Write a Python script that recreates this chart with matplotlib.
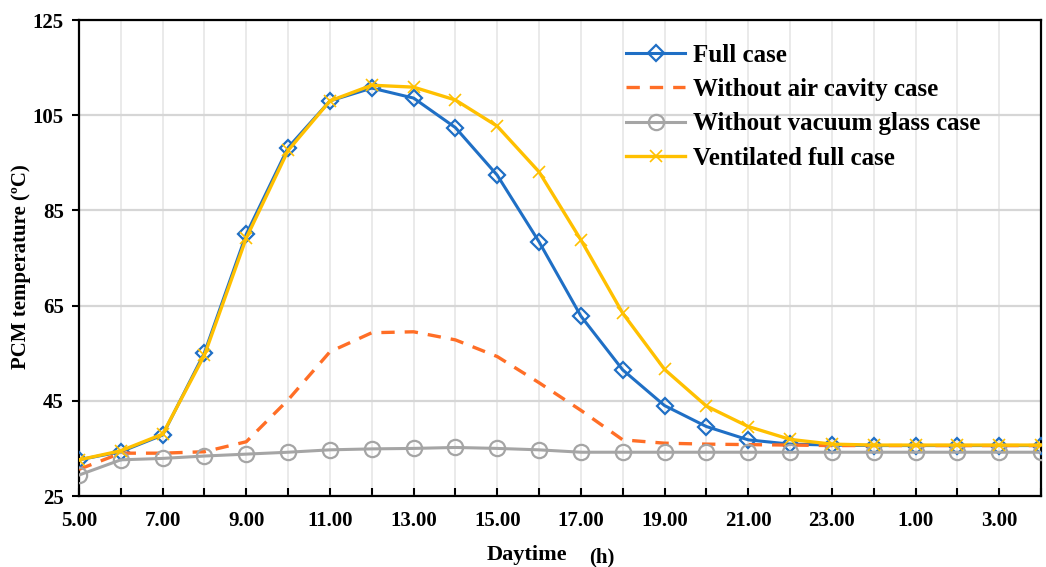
import matplotlib
matplotlib.use("Agg")
import matplotlib.pyplot as plt

# hours from 5:00 to 4:00 next day (24 = midnight)
hours = list(range(5, 29))
tick_labels = [f"{h % 24}.00" if (h - 5) % 2 == 0 else "" for h in hours]

full_case = [32.6, 34.3, 37.8, 55.1, 80.0, 98.2, 108.0, 110.7, 108.6, 102.4,
             92.4, 78.4, 62.8, 51.5, 44.0, 39.6, 36.8, 35.9, 35.7, 35.6,
             35.6, 35.6, 35.6, 35.6]
no_air_cavity = [30.6, 34.0, 34.0, 34.3, 36.4, 45.2, 55.3, 59.3, 59.5, 57.8,
                 54.3, 48.8, 43.0, 36.8, 36.1, 35.9, 35.8, 35.7, 35.6, 35.6,
                 35.6, 35.6, 35.6, 35.6]
no_vacuum_glass = [29.4, 32.6, 32.9, 33.4, 33.8, 34.2, 34.7, 34.9, 35.0, 35.2,
                   35.0, 34.7, 34.2, 34.2, 34.2, 34.2, 34.2, 34.2, 34.2, 34.2,
                   34.2, 34.2, 34.2, 34.2]
ventilated = [32.6, 34.5, 38.0, 54.6, 79.2, 97.6, 108.0, 111.3, 110.9, 108.2,
              102.7, 93.1, 78.8, 63.4, 51.6, 43.9, 39.6, 36.9, 35.9, 35.7,
              35.7, 35.7, 35.7, 35.7]

plt.rcParams["font.family"] = ["Liberation Serif", "DejaVu Serif"]
plt.rcParams["font.weight"] = "bold"

fig = plt.figure(figsize=(10.46, 5.67), dpi=100)
ax = fig.add_axes([0.0755, 0.1252, 0.9197, 0.8395])

ax.plot(hours, full_case, color="#1F6FC5", lw=2.2, marker="D", ms=8,
        mfc="none", mec="#1F6FC5", mew=1.6, label="Full case", zorder=3)
ax.plot(hours, no_air_cavity, color="#FF6E26", lw=2.4, ls=(0, (4, 3)),
        label="Without air cavity case", zorder=3)
ax.plot(hours, no_vacuum_glass, color="#A5A5A5", lw=2.2, marker="o", ms=11,
        mfc="none", mec="#A5A5A5", mew=1.6, label="Without vacuum glass case", zorder=3)
ax.plot(hours, ventilated, color="#FFC000", lw=2.4, marker="x", ms=9,
        mec="#FFC000", mew=1.2, label="Ventilated full case", zorder=4)

ax.set_xlim(5, 28)
ax.set_ylim(25, 125)
ax.set_xticks(hours)
ax.set_xticklabels(tick_labels)
ax.set_yticks([25, 45, 65, 85, 105, 125])

ax.grid(axis="x", color="#E8E8E8", lw=1.3)
ax.grid(axis="y", color="#D6D6D6", lw=1.6)
ax.set_axisbelow(True)

ax.tick_params(axis="x", direction="in", length=6, width=1.5, labelsize=15, pad=11)
ax.tick_params(axis="y", direction="out", length=5, width=1.5, labelsize=15, pad=6)
for s in ax.spines.values():
    s.set_linewidth(1.6)
    s.set_color("black")

fig.text(0.020, 0.529, "PCM temperature (ºC)", fontsize=15, fontweight="bold",
         rotation=90, ha="center", va="center")
fig.text(0.504, 0.012, "Daytime", fontsize=16, fontweight="bold",
         ha="center", va="baseline")
fig.text(0.575, 0.008, "(h)", fontsize=15, fontweight="bold",
         ha="center", va="baseline")

leg = ax.legend(loc="upper left", bbox_to_anchor=(0.569, 0.950), frameon=False,
                fontsize=18, handlelength=2.35, labelspacing=0.45,
                handletextpad=0.3, borderpad=0, borderaxespad=0)

fig.savefig("out.png", dpi=100)
